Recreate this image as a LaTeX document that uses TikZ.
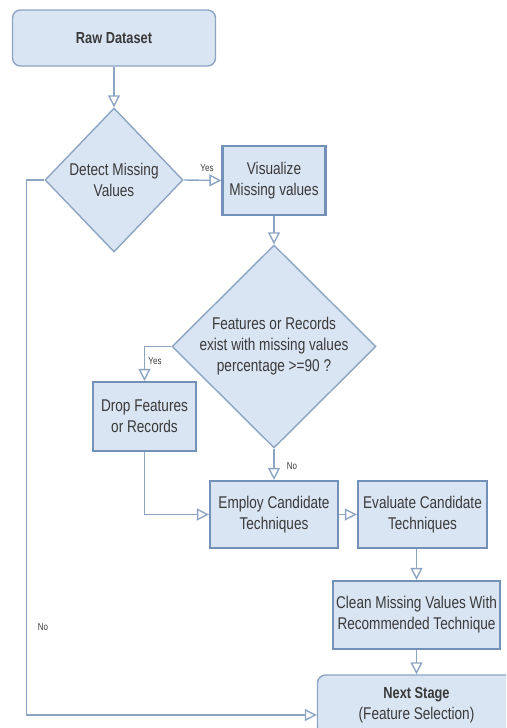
\documentclass[tikz,border=0pt]{standalone}
\usepackage{fontspec}
\setmainfont{Liberation Sans}[FakeStretch=0.8]
\usetikzlibrary{shapes.geometric,arrows.meta}
\definecolor{boxfill}{HTML}{DAE5F3}
\definecolor{boxline}{HTML}{7290B8}
\definecolor{flowline}{HTML}{8DA4C3}
\definecolor{txt}{HTML}{3A3A3A}

\begin{document}
\begin{tikzpicture}[x=1pt,y=-1pt]
\tikzset{
  block/.style = {shape=rectangle,draw=boxline,line width=2.2pt,fill=boxfill,text=txt,align=center,font=\fontsize{17}{21}\selectfont,inner sep=0pt},
  terminal/.style = {block,rounded corners=8pt,line width=1.4pt,draw=flowline},
  decision/.style = {shape=diamond,draw=flowline,line width=1.4pt,fill=boxfill,text=txt,align=center,font=\fontsize{17}{21}\selectfont,inner sep=0pt},
  flow/.style = {draw=flowline,line width=1.4pt,-{Triangle[open,length=12pt,width=12pt]}},
  answer/.style = {text=txt,font=\fontsize{10}{11}\selectfont,inner sep=0pt}
}
\useasboundingbox (0,0) rectangle (506,728);
\clip (0,0) rectangle (506,728);
% vertices
\node[terminal,minimum width=203,minimum height=56] (raw) at (114,38) {\bfseries\fontsize{16}{21}\selectfont Raw Dataset};
\node[decision,minimum width=138,minimum height=144] (detect) at (114,180) {Detect Missing\\Values};
\node[block,minimum width=103,minimum height=69] (vis) at (274,180.5) {Visualize\\Missing values};
\node[decision,minimum width=204,minimum height=203,inner sep=-3pt] (feat) at (274,346.5) {Features or Records\\exist with missing values\\percentage >=90 ?};
\node[block,minimum width=103,minimum height=69] (drop) at (144.5,416.5) {Drop Features\\or Records};
\node[block,minimum width=128,minimum height=67] (employ) at (274,514.5) {Employ Candidate\\Techniques};
\node[block,minimum width=129,minimum height=67] (eval) at (422.5,514.5) {Evaluate Candidate\\Techniques};
\node[block,minimum width=167,minimum height=68] (clean) at (416.5,615) {Clean Missing Values With\\Recommended Technique};
\node[terminal,minimum width=198,minimum height=60] (next) at (416.5,705) {{\bfseries\fontsize{16}{21}\selectfont Next Stage}\\(Feature Selection)};
% edges
\foreach \i/\j in {raw.south/detect.north,detect.east/vis.west,vis.south/feat.north,feat.south/employ.north,employ.east/eval.west,clean.south/next.north} {
    \draw[flow] (\i) -- (\j);
}
\draw[flow] (clean.north |- eval.south) -- (clean.north);
\draw[flow] (feat.west) -| (drop.north);
\draw[flow] (drop.south) |- (employ.west);
\draw[flow] (detect.west) -- ++(-18,0) |- ([yshift=-10pt]next.west);
% labels
\node[answer] (yes1) at (207,168) {Yes};
\node[answer] (yes2) at (155,361) {Yes};
\node[answer] (no1) at (292,466) {No};
\node[answer] (no2) at (43,627) {No};
\end{tikzpicture}
\end{document}
